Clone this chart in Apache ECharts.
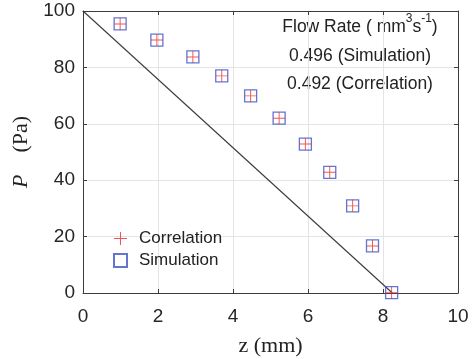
<!DOCTYPE html>
<html><head><meta charset="utf-8">
<script src="https://cdn.jsdelivr.net/npm/echarts@6/dist/echarts.min.js"></script>
<style>html,body{margin:0;padding:0;background:#fff}#c{width:473px;height:359px}</style>
</head><body><div id="c"></div>
<script>
const zValues = [0.99, 1.97, 2.93, 3.70, 4.47, 5.23, 5.93, 6.58, 7.19, 7.72, 8.23];
const simulation = [95.4, 89.7, 83.7, 77.0, 69.9, 62.0, 52.8, 42.8, 30.9, 16.7, 0.1];
const correlation = [95.4, 89.7, 83.7, 77.0, 69.9, 62.0, 52.8, 42.8, 30.9, 16.7, 0.1];
const lineZ = [0, 8.25];
const lineP = [100, 0];
const xTicks = [0, 2, 4, 6, 8, 10];
const yTicks = [0, 20, 40, 60, 80, 100];

const plusPath = 'path://M4.6,0 H5.4 V4.6 H10 V5.4 H5.4 V10 H4.6 V5.4 H0 V4.6 H4.6 Z';
const font = 'Liberation Sans, Arial, sans-serif';
const serif = 'Liberation Serif, Times New Roman, serif';

const chart = echarts.init(document.getElementById('c'));
const axCommon = {
  axisLine: {show: true, onZero: false, lineStyle: {color: '#3c3c3c', width: 1}},
  axisTick: {show: true, inside: true, length: 4, lineStyle: {color: '#3c3c3c'}},
};
chart.setOption({
  animation: false,
  grid: {left: 83, top: 11, right: 15, bottom: 66, outerBoundsMode: 'none', containLabel: false},
  xAxis: [
    Object.assign({type: 'value', min: 0, max: 10, interval: 2, position: 'bottom',
      axisLabel: {fontSize: 19, color: '#262626', fontFamily: font, margin: 14},
      splitLine: {show: true, lineStyle: {color: '#e4e4e4', width: 1}},
      name: 'z (mm)', nameLocation: 'middle', nameGap: 42,
      nameTextStyle: {fontSize: 22, fontFamily: serif, color: '#222'}}, axCommon),
    Object.assign({type: 'value', min: 0, max: 10, interval: 2, position: 'top',
      axisLabel: {show: false}, splitLine: {show: false}}, axCommon)
  ],
  yAxis: [
    Object.assign({type: 'value', min: 0, max: 100, interval: 20, position: 'left',
      axisLabel: {fontSize: 19, color: '#262626', fontFamily: font, margin: 8},
      splitLine: {show: true, lineStyle: {color: '#e4e4e4', width: 1}},
      name: '{i|P}    (Pa)', nameLocation: 'middle', nameGap: 46, nameRotate: 90,
      nameTextStyle: {fontSize: 22, fontFamily: serif, color: '#222',
        rich: {i: {fontSize: 22, fontFamily: serif, fontStyle: 'italic', color: '#222'}}}}, axCommon),
    Object.assign({type: 'value', min: 0, max: 100, interval: 20, position: 'right',
      axisLabel: {show: false}, splitLine: {show: false}}, axCommon)
  ],
  legend: {
    orient: 'vertical', left: 108, top: 225, itemGap: 5, itemWidth: 13, itemHeight: 13,
    textStyle: {fontSize: 17, fontFamily: font, color: '#222', padding: [0, 0, 0, 7]},
    data: ['Correlation', 'Simulation']
  },
  graphic: [{
    type: 'text', x: 360, y: 13,
    style: {
      text: '{n|Flow Rate ( mm}{s|3}{n|s}{s|-1}{n|)}\n{n|0.496 (Simulation)}\n{n|0.492 (Correlation)}',
      align: 'center', verticalAlign: 'top',
      rich: {
        n: {fontSize: 17.5, fontFamily: font, fill: '#222', lineHeight: 28.5},
        s: {fontSize: 12, fontFamily: font, fill: '#222', lineHeight: 22, verticalAlign: 'top'}
      }
    }
  }],
  series: [
    {name: 'line', type: 'line', data: lineZ.map((z, i) => [z, lineP[i]]),
      symbol: 'none', lineStyle: {color: '#3a3a3a', width: 1.1}, z: 1},
    {name: 'Simulation', type: 'scatter', data: zValues.map((z, i) => [z, simulation[i]]),
      symbol: 'rect', symbolSize: 12,
      itemStyle: {color: 'rgba(0,0,0,0)', borderColor: '#3f51c6', borderWidth: 1.3}, z: 2},
    {name: 'Correlation', type: 'scatter', data: zValues.map((z, i) => [z, correlation[i]]),
      symbol: plusPath, symbolSize: 12,
      itemStyle: {color: '#ee2a2a'}, z: 3}
  ]
});
</script></body></html>
